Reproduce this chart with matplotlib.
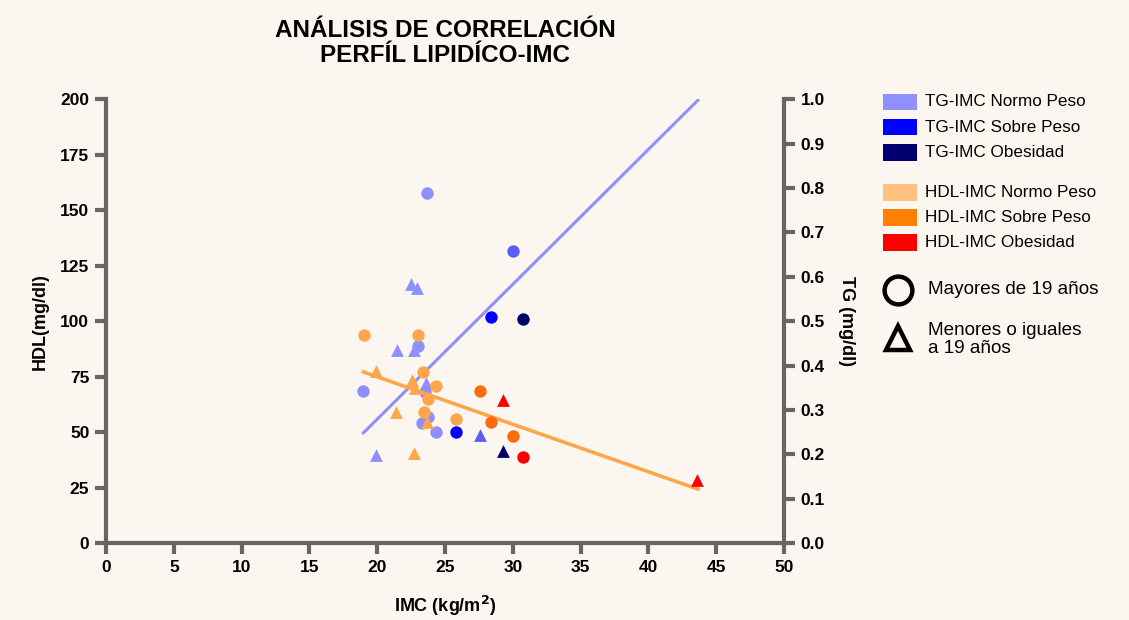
import matplotlib
matplotlib.use("Agg")
import matplotlib.pyplot as plt
from matplotlib.patches import Rectangle

plt.rcParams['font.family'] = ['Liberation Sans', 'DejaVu Sans']

BG = '#fbf7f0'
SPINE = '#666666'

# ---------------- data ----------------
# TG (right axis, 0-1)
tg_normo_circ_imc = [23.7, 23.0, 18.96, 23.5, 23.73, 23.3, 24.35]
tg_normo_circ_val = [0.789, 0.444, 0.343, 0.340, 0.285, 0.270, 0.250]
tg_normo_tri_imc = [22.5, 22.9, 21.47, 22.7, 23.6, 19.94]
tg_normo_tri_val = [0.584, 0.574, 0.435, 0.435, 0.361, 0.198]
tg_mid_circ_imc = [29.98]
tg_mid_circ_val = [0.658]
tg_mid_tri_imc = [27.57]
tg_mid_tri_val = [0.243]
tg_sobre_circ_imc = [28.36, 25.78]
tg_sobre_circ_val = [0.509, 0.250]
tg_obes_circ_imc = [30.75]
tg_obes_circ_val = [0.504]
tg_obes_tri_imc = [29.27]
tg_obes_tri_val = [0.208]

# HDL (left axis, 0-200)
hdl_normo_circ_imc = [19.0, 23.0, 23.4, 24.35, 23.73, 23.45, 25.83]
hdl_normo_circ_val = [93.8, 93.8, 77.2, 70.8, 64.8, 59.2, 55.9]
hdl_normo_tri_imc = [19.94, 22.53, 22.8, 21.42, 23.68, 22.7]
hdl_normo_tri_val = [77.5, 73.5, 69.7, 59.2, 54.7, 40.4]
hdl_sobre_circ_imc = [27.57, 28.38, 30.0]
hdl_sobre_circ_val = [68.7, 54.7, 48.4]
hdl_obes_circ_imc = [30.75]
hdl_obes_circ_val = [38.6]
hdl_obes_tri_imc = [29.3, 43.6]
hdl_obes_tri_val = [64.5, 28.4]

# regression lines (end points)
tg_fit_imc = [18.98, 43.65]
tg_fit_val = [0.248, 0.998]
hdl_fit_imc = [18.98, 43.65]
hdl_fit_val = [77.1, 24.3]

x_ticks = [0, 5, 10, 15, 20, 25, 30, 35, 40, 45, 50]
y_ticks = [0, 25, 50, 75, 100, 125, 150, 175, 200]
y2_ticks = [0.0, 0.1, 0.2, 0.3, 0.4, 0.5, 0.6, 0.7, 0.8, 0.9, 1.0]

legend_series = [
    ('TG-IMC Normo Peso', '#8f8fff'),
    ('TG-IMC Sobre Peso', '#0000ff'),
    ('TG-IMC Obesidad', '#000070'),
    ('HDL-IMC Normo Peso', '#ffc080'),
    ('HDL-IMC Sobre Peso', '#ff8000'),
    ('HDL-IMC Obesidad', '#ff0000'),
]

C_TG_N = '#8f8fff'
C_TG_M = '#5c5cf8'
C_TG_S = '#0000ff'
C_TG_O = '#000066'
C_HDL_N = '#ffa64d'
C_HDL_S = '#ff6a0a'
C_HDL_O = '#ff0000'

# ---------------- figure ----------------
W, H = 1129, 620
fig = plt.figure(figsize=(W / 100, H / 100), dpi=100, facecolor=BG)

L, R, B, T = 106, 784, 543, 99.3
ax = fig.add_axes([L / W, 1 - B / H, (R - L) / W, (B - T) / H])
ax2 = ax.twinx()
ax.set_zorder(ax2.get_zorder() + 1)
ax.patch.set_visible(False)
ax2.set_facecolor(BG)

ax.set_xlim(0, 50)
ax.set_ylim(0, 200)
ax2.set_ylim(0, 1)

for a in (ax, ax2):
    a.spines['top'].set_visible(False)
    for s in ('left', 'right', 'bottom'):
        a.spines[s].set_color(SPINE)
        a.spines[s].set_linewidth(3)
ax.spines['right'].set_visible(False)
ax2.spines['left'].set_visible(False)
ax2.spines['bottom'].set_visible(False)

ax.set_xticks(x_ticks)
ax.set_yticks(y_ticks)
ax2.set_yticks(y2_ticks)
ax2.set_yticklabels([f'{v:.1f}' for v in y2_ticks])

tick_kw = dict(length=8, width=3, color=SPINE, labelsize=12.5, labelcolor='black')
ax.tick_params(axis='both', pad=4, **tick_kw)
ax2.tick_params(axis='y', pad=4, **tick_kw)
for lab in ax.get_xticklabels() + ax.get_yticklabels() + ax2.get_yticklabels():
    lab.set_fontweight('bold')

ax.set_xlabel('IMC (kg/m$^\\mathbf{2}$)', fontsize=13, fontweight='bold', labelpad=14)
ax.set_ylabel('HDL(mg/dl)', fontsize=13, fontweight='bold', labelpad=8)
ax2.set_ylabel('TG (mg/dl)', fontsize=13, fontweight='bold', rotation=-90, labelpad=22)

# regression lines
ax2.plot(tg_fit_imc, tg_fit_val, color=C_TG_N, lw=2.2, zorder=1)
ax.plot(hdl_fit_imc, hdl_fit_val, color=C_HDL_N, lw=2.6, zorder=3)

cs = 80
ts = 85
ax2.scatter(tg_normo_circ_imc, tg_normo_circ_val, s=cs, marker='o', color=C_TG_N, lw=0, zorder=2)
ax2.scatter(tg_normo_tri_imc, tg_normo_tri_val, s=ts, marker='^', color=C_TG_N, lw=0, zorder=2)
ax2.scatter(tg_mid_circ_imc, tg_mid_circ_val, s=cs, marker='o', color=C_TG_M, lw=0, zorder=2)
ax2.scatter(tg_mid_tri_imc, tg_mid_tri_val, s=ts, marker='^', color=C_TG_M, lw=0, zorder=2)
ax2.scatter(tg_sobre_circ_imc, tg_sobre_circ_val, s=cs, marker='o', color=C_TG_S, lw=0, zorder=2)
ax2.scatter(tg_obes_circ_imc, tg_obes_circ_val, s=cs, marker='o', color=C_TG_O, lw=0, zorder=2)
ax2.scatter(tg_obes_tri_imc, tg_obes_tri_val, s=ts, marker='^', color=C_TG_O, lw=0, zorder=2)

ax.scatter(hdl_normo_circ_imc, hdl_normo_circ_val, s=cs, marker='o', color=C_HDL_N, lw=0, zorder=4)
ax.scatter(hdl_normo_tri_imc, hdl_normo_tri_val, s=ts, marker='^', color=C_HDL_N, lw=0, zorder=4)
ax.scatter(hdl_sobre_circ_imc, hdl_sobre_circ_val, s=cs, marker='o', color=C_HDL_S, lw=0, zorder=4)
ax.scatter(hdl_obes_circ_imc, hdl_obes_circ_val, s=cs, marker='o', color=C_HDL_O, lw=0, zorder=4)
ax.scatter(hdl_obes_tri_imc, hdl_obes_tri_val, s=ts, marker='^', color=C_HDL_O, lw=0, zorder=4)

# title
fig.text(445 / W, 1 - 43 / H, 'ANÁLISIS DE CORRELACIÓN\nPERFÍL LIPIDÍCO-IMC',
         ha='center', va='center', fontsize=17.5, fontweight='bold',
         family=['Liberation Sans Narrow', 'Liberation Sans'], linespacing=1.12)

# legend (pixel coordinates overlay)
lax = fig.add_axes([0, 0, 1, 1])
lax.set_xlim(0, W)
lax.set_ylim(H, 0)
lax.axis('off')
rows_y = [102, 127, 152.5, 192.5, 217.5, 242.5]
for (label, col), yc in zip(legend_series, rows_y):
    lax.add_patch(Rectangle((883, yc - 8.2), 33.5, 16.4, facecolor=col, edgecolor='none'))
    lax.text(925, yc, label, ha='left', va='center', fontsize=12.3)
lax.plot([897.7], [290], marker='o', markersize=20, mfc='none', mec='black', mew=3.2)
lax.plot([897.7], [337.5], marker='^', markersize=17, mfc='none', mec='black', mew=3.2)
lax.text(928, 290, 'Mayores de 19 años', ha='left', va='center', fontsize=13.6)
lax.text(928, 339.5, 'Menores o iguales\na 19 años', ha='left', va='center', fontsize=13.6,
         linespacing=1.15)

fig.savefig('out.png', dpi=100, facecolor=BG)
